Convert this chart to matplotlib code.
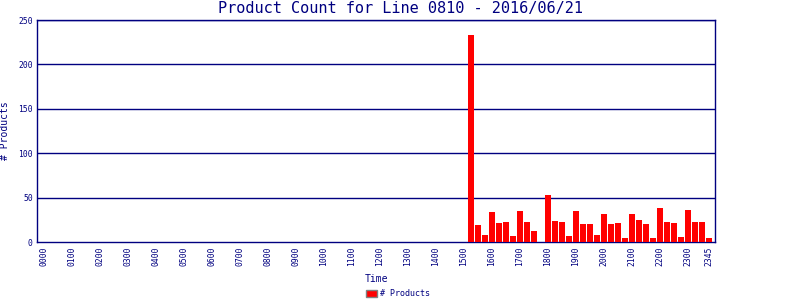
import numpy as np
import matplotlib
matplotlib.use("Agg")
import matplotlib.pyplot as plt
from matplotlib.patches import Patch

# 15 minute slots, 0000 .. 2345
times = ["%02d%02d" % (h, m) for h in range(24) for m in (0, 15, 30, 45)]

# product counts, nothing before 1515
counts = [0] * 61 + [
    233, 19, 8,                # 1515 - 1545
    34, 21, 23, 7,             # 1600
    35, 23, 12, 0,             # 1700
    53, 24, 23, 7,             # 1800
    35, 20, 20, 8,             # 1900
    32, 20, 21, 5,             # 2000
    32, 25, 20, 5,             # 2100
    38, 23, 21, 6,             # 2200
    36, 23, 22, 5,             # 2300
]

tick_idx = list(range(0, 96, 4)) + [95]
tick_lbl = [times[i] for i in tick_idx]

navy = "#000080"
mono = "DejaVu Sans Mono"

fig = plt.figure(figsize=(8, 3), dpi=100)
ax = fig.add_axes([0.04625, 0.1933, 0.8475, 0.74])

x = np.arange(len(counts))
ax.bar(x, counts, width=6 / 7, color="red", zorder=3)

ax.set_xlim(-1, 95.86)
ax.set_ylim(0, 250)
ax.set_yticks(range(0, 251, 50))
for y in range(50, 251, 50):
    ax.axhline(y, color=navy, lw=1, zorder=1)

ax.set_xticks(tick_idx)
ax.set_xticklabels(tick_lbl, rotation=90, fontsize=5.8, family=mono, color=navy)
for lab in ax.get_yticklabels():
    lab.set_fontsize(5.8)
    lab.set_family(mono)
    lab.set_color(navy)
ax.tick_params(length=0, pad=3)

for s in ax.spines.values():
    s.set_color(navy)
    s.set_linewidth(1)

# title is centred on the whole image, not the plot area
fig.text(0.5, 0.97, "Product Count for Line 0810 - 2016/06/21", ha="center",
         va="center", fontsize=11, family=mono, color=navy)
ax.set_xlabel("Time", fontsize=7, family=mono, color=navy, labelpad=6)
ax.set_ylabel("# Products", fontsize=7, family=mono, color=navy, labelpad=6)

leg = fig.legend(handles=[Patch(facecolor="red", edgecolor="gray", label="# Products")],
                 loc="lower center", bbox_to_anchor=(0.4975, -0.02), frameon=False,
                 prop={"family": mono, "size": 6}, handlelength=1.3,
                 handleheight=0.9, handletextpad=0.3)
for t in leg.get_texts():
    t.set_color(navy)

fig.savefig("out.png", dpi=100)
